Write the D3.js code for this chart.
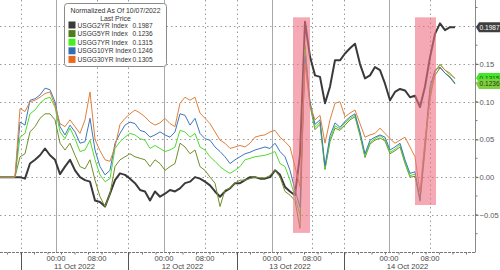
<!DOCTYPE html>
<html>
<head>
<meta charset="utf-8">
<script src="https://cdn.jsdelivr.net/npm/d3@7"></script>
<style>
  html, body { margin: 0; padding: 0; background: #fff; }
  svg { display: block; font-family: "Liberation Sans", Arial, sans-serif; }
</style>
</head>
<body>
<div id="chart"></div>
<script>
// series: normalized change since 10/07/2022, one value per bar (bar index = trading time)
var names  = ["USGG2YR Index", "USGG5YR Index", "USGG7YR Index", "USGG10YR Index", "USGG30YR Index"];
var last   = ["0.1987", "0.1236", "0.1315", "0.1246", "0.1305"];
var colors = ["#3a3a3a", "#6f8f2a", "#4fdc2f", "#3d78bd", "#e0803a"];
var swatch = ["#3a3a3a", "#4f7d1e", "#44ee22", "#2f6db5", "#e8691a"];

var usgg2 = [0,0,0,0,
  0.000,-0.002,0.018,0.023,0.029,0.038,0.029,0.023,0.004,0.014,0.023,0.009,0.000,-0.004,-0.006,-0.031,
  -0.033,-0.039,-0.022,-0.004,0.005,0.003,-0.002,-0.008,-0.017,-0.019,-0.031,-0.019,-0.026,-0.022,-0.017,-0.019,
  -0.015,-0.008,-0.006,0.000,-0.002,-0.006,-0.011,-0.019,-0.026,-0.019,-0.015,-0.008,-0.008,-0.004,0.000,0.000,
  -0.002,-0.002,0.000,0.009,0.003,-0.013,-0.019,-0.024,0.030,0.206,0.160,0.135,0.133,0.098,0.120,0.155,
  0.155,0.164,0.171,0.177,0.150,0.131,0.135,0.146,0.142,0.124,0.102,0.113,0.117,0.115,0.106,0.108,
  0.093,0.120,0.159,0.190,0.204,0.195,0.199,0.1987];
var usgg5 = [0,0,0,0,
  0.027,0.031,0.060,0.067,0.078,0.084,0.084,0.076,0.045,0.036,0.045,0.029,0.014,0.011,0.023,-0.004,
  -0.026,-0.039,-0.022,0.014,0.023,0.027,0.031,0.027,0.025,0.023,0.014,0.023,0.018,0.009,0.014,0.018,
  0.045,0.040,0.031,0.036,0.014,0.009,0.000,-0.008,-0.039,-0.017,-0.015,-0.008,-0.004,-0.004,-0.002,0.000,
  -0.001,-0.001,0.002,0.009,0.000,-0.019,-0.024,-0.031,-0.068,0.175,0.095,0.063,0.070,0.010,0.047,0.065,
  0.062,0.069,0.076,0.080,0.055,0.026,0.044,0.049,0.052,0.048,0.031,0.035,0.040,0.018,0.000,0.001,
  -0.032,0.035,0.110,0.135,0.145,0.138,0.132,0.1236];
var usgg7 = [0,0,0,0,
  0.053,0.058,0.084,0.089,0.098,0.104,0.106,0.093,0.060,0.051,0.065,0.051,0.034,0.036,0.049,0.023,
  0.003,-0.006,-0.002,0.038,0.047,0.053,0.058,0.056,0.051,0.049,0.038,0.042,0.038,0.034,0.036,0.040,
  0.062,0.060,0.053,0.058,0.040,0.036,0.027,0.021,0.014,0.009,0.005,0.009,0.014,0.023,0.025,0.027,
  0.028,0.029,0.031,0.034,0.018,0.014,-0.004,-0.026,-0.050,0.170,0.098,0.066,0.073,0.012,0.050,0.068,
  0.064,0.072,0.078,0.082,0.058,0.028,0.046,0.051,0.055,0.050,0.033,0.037,0.043,0.020,0.002,0.004,
  -0.028,0.040,0.115,0.140,0.150,0.142,0.136,0.1315];
var usgg10 = [0,0,0,0,
  0.073,0.069,0.102,0.104,0.109,0.118,0.116,0.100,0.067,0.056,0.069,0.060,0.045,0.047,0.078,0.036,
  0.014,0.003,0.009,0.045,0.058,0.069,0.073,0.071,0.062,0.060,0.053,0.056,0.060,0.056,0.053,0.060,
  0.084,0.082,0.069,0.078,0.058,0.051,0.049,0.040,0.034,0.027,0.018,0.023,0.027,0.031,0.033,0.036,
  0.038,0.040,0.038,0.045,0.034,0.027,0.009,-0.017,-0.040,0.160,0.100,0.070,0.076,0.015,0.055,0.072,
  0.066,0.074,0.080,0.084,0.060,0.031,0.049,0.053,0.056,0.053,0.036,0.040,0.045,0.023,0.005,0.007,
  -0.030,0.045,0.120,0.142,0.146,0.138,0.133,0.1246];
var usgg30 = [0,0,0,0,
  0.091,0.087,0.100,0.102,0.106,0.111,0.113,0.095,0.071,0.067,0.076,0.067,0.058,0.076,0.113,0.050,
  0.035,0.023,0.021,0.040,0.070,0.078,0.084,0.089,0.085,0.080,0.073,0.069,0.072,0.078,0.071,0.067,
  0.098,0.106,0.102,0.106,0.085,0.078,0.071,0.060,0.049,0.045,0.038,0.040,0.042,0.040,0.045,0.053,
  0.055,0.056,0.060,0.062,0.053,0.047,0.040,0.014,-0.013,0.150,0.095,0.076,0.082,0.045,0.076,0.098,
  0.100,0.080,0.085,0.089,0.071,0.053,0.056,0.058,0.065,0.058,0.051,0.045,0.049,0.053,0.040,0.027,
  -0.020,0.050,0.102,0.140,0.149,0.142,0.138,0.1305];

var series = [usgg2, usgg5, usgg7, usgg10, usgg30];

// x axis positions in bar units
var dayLabels  = ["11 Oct 2022", "12 Oct 2022", "13 Oct 2022", "14 Oct 2022"];
var dayStart   = [4.2, 25.6, 47.4, 68.8];
var midnight   = [11.2, 32.8, 54.4, 77.8];
var eightAm    = [19.4, 41.0, 62.4, 86.0];
var yTicks     = [-0.05, 0.00, 0.05, 0.10, 0.15, 0.20];

// highlighted spikes
var spikeStart = [58.6, 83.0];
var spikeEnd   = [62.0, 87.2];
var spikeLow   = [-0.074, -0.037];
var spikeHigh  = [0.212, 0.212];

var W = 500, H = 270;
var plotRight = 475, plotBottom = 252.5;

var svg = d3.select("#chart").append("svg")
    .attr("width", W)
    .attr("height", H);

var x = d3.scaleLinear().domain([0, 95]).range([0, plotRight]);
var y = d3.scaleLinear().domain([-0.1, 0.235]).range([plotBottom, 0]);

// grid
var grid = svg.append("g");
grid.selectAll("line.h").data(yTicks).enter().append("line")
    .attr("x1", 0).attr("x2", plotRight)
    .attr("y1", d => Math.round(y(d)) + 0.5).attr("y2", d => Math.round(y(d)) + 0.5)
    .attr("stroke", "#9a9a9a").attr("stroke-dasharray", "1.5,3");
grid.selectAll("line.d").data(dayStart.concat(eightAm)).enter().append("line")
    .attr("x1", d => Math.round(x(d)) + 0.5).attr("x2", d => Math.round(x(d)) + 0.5)
    .attr("y1", 0).attr("y2", plotBottom)
    .attr("stroke", "#9a9a9a").attr("stroke-dasharray", "1.5,3");
grid.selectAll("line.m").data(midnight).enter().append("line")
    .attr("x1", d => Math.round(x(d)) + 0.5).attr("x2", d => Math.round(x(d)) + 0.5)
    .attr("y1", 0).attr("y2", plotBottom)
    .attr("stroke", "#a8a8a8").attr("stroke-width", 1);

// lines
var line = d3.line()
    .x((d, i) => x(i))
    .y(d => y(d));

// draw order: black first, orange on top
var order = [0, 1, 2, 3, 4];
svg.append("g").selectAll("path").data(order).enter().append("path")
    .attr("d", k => line(series[k]))
    .attr("fill", "none")
    .attr("stroke", k => colors[k])
    .attr("stroke-width", k => k === 0 ? 2 : 1)
    .attr("stroke-linejoin", "round");

// pink highlight boxes
svg.append("g").selectAll("rect").data(spikeStart).enter().append("rect")
    .attr("x", (d, i) => x(d))
    .attr("width", (d, i) => x(spikeEnd[i]) - x(d))
    .attr("y", (d, i) => y(spikeHigh[i]))
    .attr("height", (d, i) => y(spikeLow[i]) - y(spikeHigh[i]))
    .attr("fill", "#ee6f84")
    .attr("fill-opacity", 0.6);

// right y axis
var yAxis = d3.axisRight(y)
    .tickValues(yTicks.filter(d => d < 0.2))
    .tickFormat(d3.format(".2f"))
    .tickSize(3)
    .tickPadding(1);
var ya = svg.append("g")
    .attr("transform", "translate(" + (plotRight + 0.5) + ",0)")
    .call(yAxis);
ya.select(".domain").attr("stroke", "#8a8a8a").attr("d", "M0,0V" + plotBottom);
ya.selectAll(".tick line").attr("stroke", "#666");
ya.selectAll(".tick text").attr("fill", "#555").style("font-size", "7.6px");
// minor ticks
ya.selectAll("line.minor").data(d3.range(-0.075, 0.23, 0.025)).enter().append("line")
    .attr("x1", 0).attr("x2", 2)
    .attr("y1", d => y(d)).attr("y2", d => y(d))
    .attr("stroke", "#777");

// bottom axis
var xa = svg.append("g");
xa.append("line")
    .attr("x1", 0).attr("x2", plotRight)
    .attr("y1", plotBottom).attr("y2", plotBottom)
    .attr("stroke", "#777").attr("stroke-dasharray", "3,1");
xa.selectAll("line.minor").data(d3.range(1.5, 95, 2.7)).enter().append("line")
    .attr("x1", d => x(d)).attr("x2", d => x(d))
    .attr("y1", plotBottom).attr("y2", plotBottom + 2)
    .attr("stroke", "#777");
xa.selectAll("line.sep").data(dayStart).enter().append("line")
    .attr("x1", d => Math.round(x(d)) + 0.5).attr("x2", d => Math.round(x(d)) + 0.5)
    .attr("y1", plotBottom).attr("y2", H)
    .attr("stroke", "#555");
xa.selectAll("text.h0").data(midnight).enter().append("text")
    .attr("x", d => x(d)).attr("y", 261)
    .attr("text-anchor", "middle")
    .attr("fill", "#444").style("font-size", "7.6px")
    .text("00:00");
xa.selectAll("text.h8").data(eightAm).enter().append("text")
    .attr("x", d => x(d)).attr("y", 261)
    .attr("text-anchor", "middle")
    .attr("fill", "#444").style("font-size", "7.6px")
    .text("08:00");
xa.selectAll("text.day").data(dayLabels).enter().append("text")
    .attr("x", (d, i) => (x(midnight[i]) + x(eightAm[i])) / 2 - 2)
    .attr("y", 269)
    .attr("text-anchor", "middle")
    .attr("fill", "#444").style("font-size", "7.6px")
    .text(d => d);

// last price tags
function tag(k, fill, textFill) {
    var v = +last[k], ty = y(v);
    var g = svg.append("g").attr("transform", "translate(" + (plotRight + 1) + "," + ty + ")");
    g.append("path")
        .attr("d", "M0,0L3,-5H24V5H3Z")
        .attr("fill", fill);
    g.append("text")
        .attr("x", 3.5).attr("y", 2.5)
        .attr("fill", textFill)
        .style("font-size", "6.6px")
        .text(last[k]);
}
tag(0, "#3f3f3f", "#fff");
tag(2, "#44e62a", "#1d5a10");
tag(1, "#7fd040", "#22400c");

// legend
var lg = svg.append("g").attr("transform", "translate(64.5,3.5)");
lg.append("rect")
    .attr("width", 102).attr("height", 63).attr("rx", 3)
    .attr("fill", "#fff").attr("stroke", "#8a8a8a");
lg.append("text").attr("x", 51).attr("y", 9).attr("text-anchor", "middle")
    .attr("fill", "#333").style("font-size", "6.9px")
    .text("Normalized As Of 10/07/2022");
lg.append("text").attr("x", 51).attr("y", 17).attr("text-anchor", "middle")
    .attr("fill", "#333").style("font-size", "6.9px")
    .text("Last Price");
var rows = lg.selectAll("g.row").data(names).enter().append("g")
    .attr("transform", (d, i) => "translate(0," + (21.5 + i * 8.6) + ")");
rows.append("rect").attr("x", 4).attr("y", -3.5).attr("width", 7).attr("height", 7)
    .attr("fill", (d, i) => swatch[i]);
rows.append("text").attr("x", 13).attr("y", 2.6)
    .attr("fill", "#333").style("font-size", "6.6px")
    .text(d => d);
rows.append("text").attr("x", 68).attr("y", 2.6)
    .attr("fill", "#333").style("font-size", "6.6px")
    .text((d, i) => last[i]);
</script>
</body>
</html>
